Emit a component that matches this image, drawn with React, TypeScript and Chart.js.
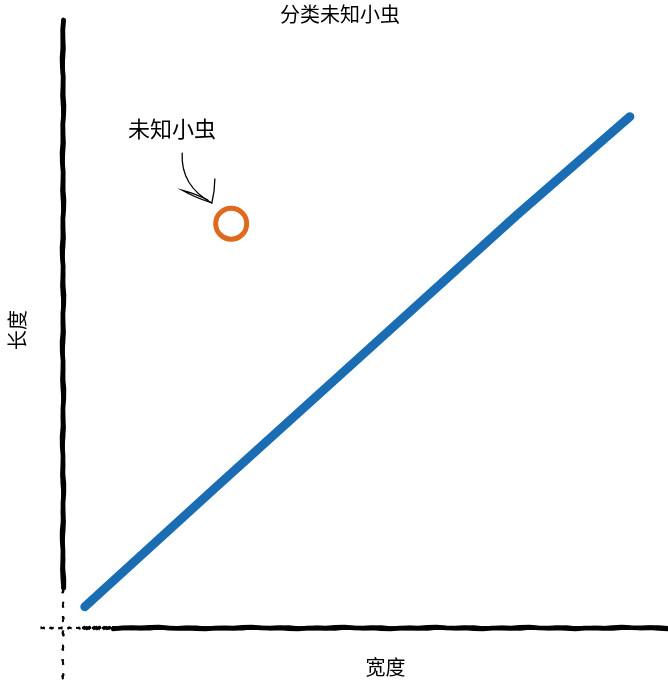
import React, { useEffect, useRef } from "react";
import { Chart, registerables } from "chart.js";
Chart.register(...registerables);

const chartTitle = "分类未知小虫";
const xLabel = "宽度";
const yLabel = "长度";
const lineX = [0.36, 2.5, 5.0, 7.5, 9.37];
const lineY = [0.35, 2.29, 4.54, 6.79, 8.41];
const bugX = [2.78];
const bugY = [6.65];
const annotText = "未知小虫";
const annotPos = [1.8, 8.17];
const arrowFrom = [1.97, 7.81];
const arrowTo = [2.46, 6.99];

const FONT = "'Liberation Serif', 'Noto Sans CJK SC', serif";

function roughLine(ctx: CanvasRenderingContext2D, x1: number, y1: number, x2: number, y2: number, w: number, seed: number) {
  const n = 60;
  const dx = x2 - x1, dy = y2 - y1;
  const len = Math.hypot(dx, dy);
  const nx = -dy / len, ny = dx / len;
  for (let pass = 0; pass < 3; pass++) {
    ctx.beginPath();
    for (let i = 0; i <= n; i++) {
      const t = i / n;
      const off = Math.sin(t * 37 + seed + pass * 2.1) * 0.6 + Math.sin(t * 113 + seed * 3 + pass) * 0.4;
      const x = x1 + dx * t + nx * off;
      const y = y1 + dy * t + ny * off;
      if (i === 0) ctx.moveTo(x, y); else ctx.lineTo(x, y);
    }
    ctx.lineWidth = w * (0.55 + 0.2 * pass);
    ctx.stroke();
  }
}

const xkcdPlugin = {
  id: "xkcd",
  beforeDatasetsDraw(chart: any) {
    const { ctx, chartArea: a } = chart;
    ctx.save();
    ctx.strokeStyle = "#000";
    ctx.lineCap = "round";
    // y axis
    roughLine(ctx, a.left, a.top, a.left, a.bottom - 40, 5, 1.3);
    ctx.setLineDash([5, 10]);
    roughLine(ctx, a.left, a.bottom - 40, a.left, a.bottom + 60, 1.6, 2.1);
    ctx.setLineDash([]);
    // x axis
    ctx.setLineDash([4, 7]);
    roughLine(ctx, a.left - 22, a.bottom, a.left + 20, a.bottom, 1.6, 0.7);
    ctx.setLineDash([10, 4]);
    roughLine(ctx, a.left + 20, a.bottom, a.left + 50, a.bottom, 2.5, 5.1);
    ctx.setLineDash([]);
    roughLine(ctx, a.left + 50, a.bottom, a.right, a.bottom, 5, 4.2);
    ctx.restore();
  },
  afterDatasetsDraw(chart: any) {
    const { ctx, chartArea: a, scales } = chart;
    const xs = scales.x, ys = scales.y;
    ctx.save();
    ctx.fillStyle = "#000";
    ctx.textAlign = "center";
    ctx.textBaseline = "middle";
    ctx.font = "20px " + FONT;
    ctx.fillText(chartTitle, 340, a.top - 3);
    ctx.fillText(xLabel, (a.left + a.right) / 2 + 20, a.bottom + 42);
    ctx.save();
    ctx.translate(a.left - 43, (a.top + a.bottom) / 2 + 6);
    ctx.rotate(-Math.PI / 2);
    ctx.fillText(yLabel, 0, 0);
    ctx.restore();
    ctx.font = "22px " + FONT;
    ctx.fillText(annotText, xs.getPixelForValue(annotPos[0]), ys.getPixelForValue(annotPos[1]));
    // arrow
    const sx = xs.getPixelForValue(arrowFrom[0]), sy = ys.getPixelForValue(arrowFrom[1]);
    const ex = xs.getPixelForValue(arrowTo[0]), ey = ys.getPixelForValue(arrowTo[1]);
    ctx.strokeStyle = "#000";
    ctx.lineWidth = 1.3;
    ctx.lineCap = "round";
    ctx.beginPath();
    ctx.moveTo(sx, sy);
    ctx.bezierCurveTo(sx - 1, sy + 20, sx + 8, sy + 38, ex, ey);
    ctx.stroke();
    ctx.beginPath();
    ctx.moveTo(ex, ey);
    ctx.quadraticCurveTo(ex - 18, ey - 6, ex - 30, ey - 13);
    ctx.quadraticCurveTo(ex - 15, ey - 9, ex - 4, ey - 3);
    ctx.moveTo(ex, ey);
    ctx.quadraticCurveTo(ex + 3, ey - 12, ex + 3, ey - 24);
    ctx.stroke();
    ctx.restore();
  },
};

export default function App() {
  const ref = useRef<HTMLCanvasElement>(null);
  useEffect(() => {
    const chart = new Chart(ref.current!, {
      type: "scatter",
      data: {
        datasets: [
          {
            type: "line",
            data: lineX.map((x, i) => ({ x, y: lineY[i] })),
            borderColor: "#1a6db3",
            borderWidth: 9,
            borderCapStyle: "round",
            pointRadius: 0,
            tension: 0,
          } as any,
          {
            data: bugX.map((x, i) => ({ x, y: bugY[i] })),
            pointRadius: 15.5,
            pointBorderWidth: 5,
            pointBorderColor: "#dd6a1f",
            pointBackgroundColor: "rgba(0,0,0,0)",
          },
        ],
      },
      options: {
        responsive: false,
        animation: false,
        layout: { autoPadding: false, padding: { left: 63, right: 0, top: 20, bottom: 59 } },
        plugins: { legend: { display: false }, tooltip: { enabled: false }, title: { display: false } },
        scales: {
          x: { type: "linear", min: 0, max: 10, display: false },
          y: { type: "linear", min: 0, max: 10, display: false },
        },
      },
      plugins: [xkcdPlugin],
    });
    return () => chart.destroy();
  }, []);
  return (
    <div style={{ position: "absolute", left: 0, top: 0, width: 668, height: 687, background: "#fff" }}>
      <canvas ref={ref} width={668} height={687} />
    </div>
  );
}
